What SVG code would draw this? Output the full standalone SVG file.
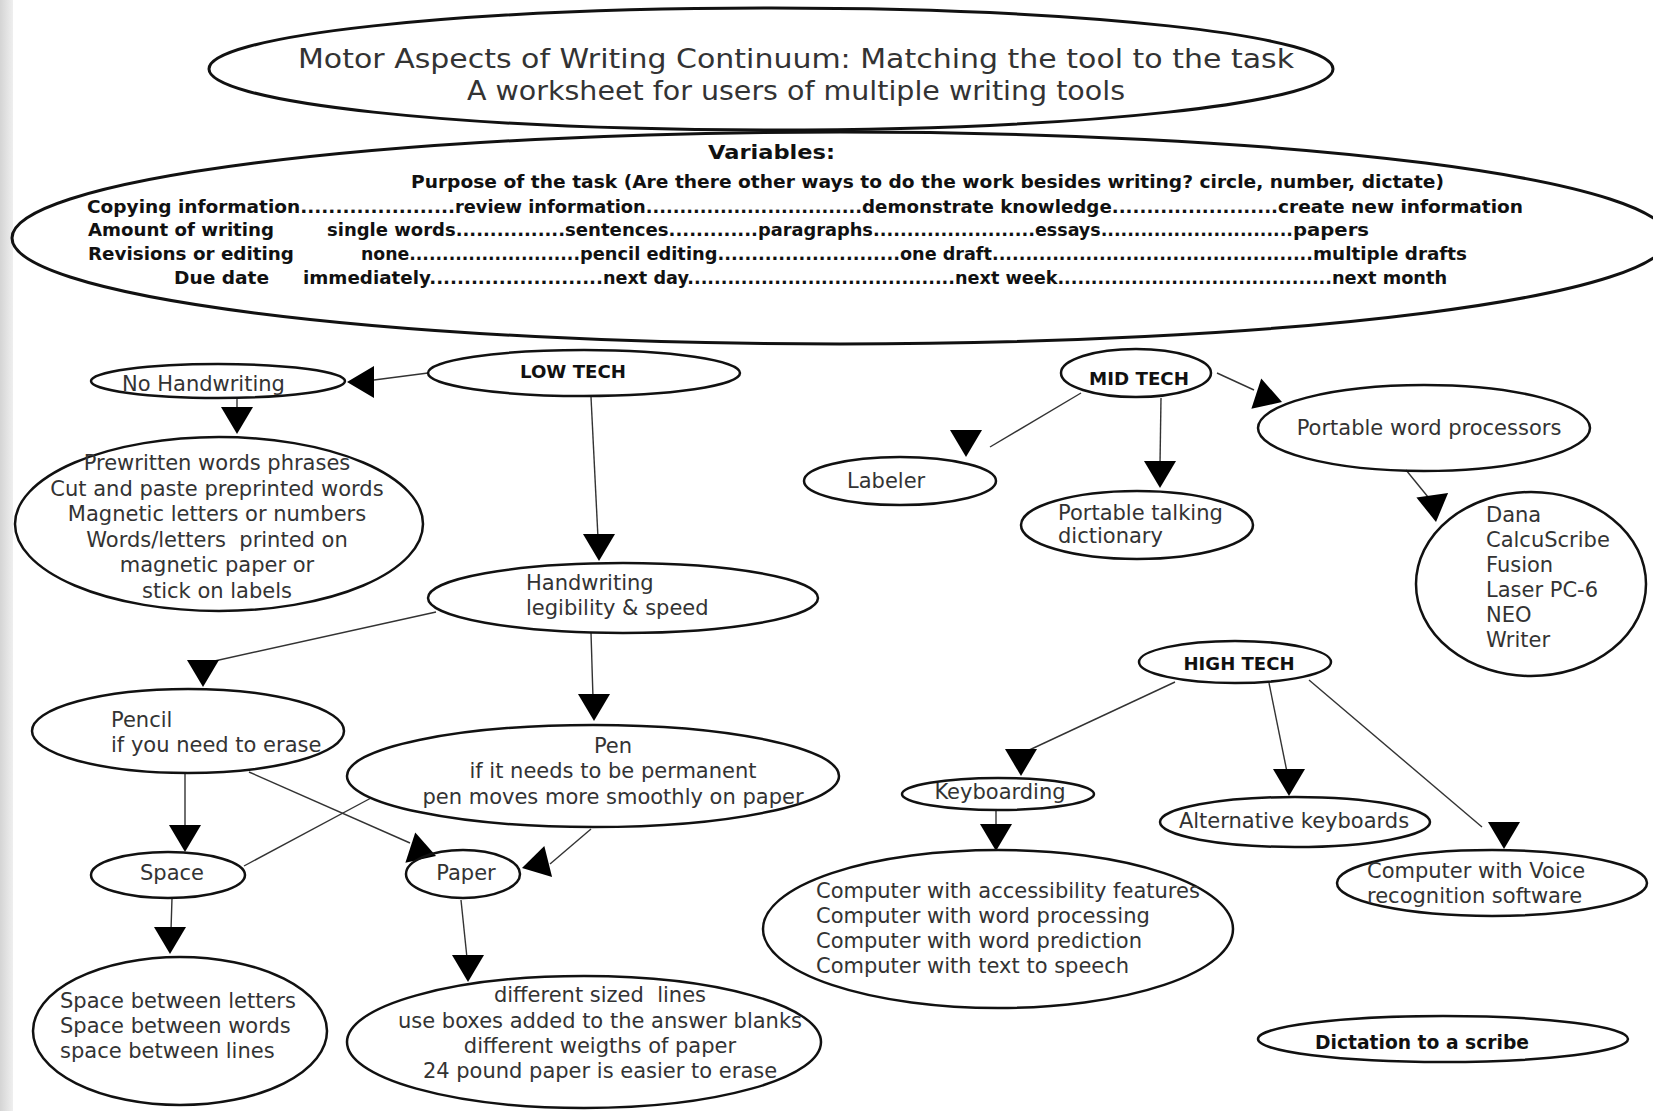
<svg xmlns="http://www.w3.org/2000/svg" xmlns:xlink="http://www.w3.org/1999/xlink" width="1653" height="1111" viewBox="0 0 1653 1111">
<style>
.n{fill:none;stroke:#111;stroke-width:2.5}
.t{font-family:"DejaVu Sans",sans-serif;font-size:21px;fill:#333}
.b{font-family:"DejaVu Sans",sans-serif;font-weight:bold;fill:#111}
.v{font-family:"DejaVu Sans",sans-serif;font-weight:bold;font-size:17px;fill:#111}
.m{text-anchor:middle}
.c line{stroke:#333;stroke-width:1.4}
.c use{fill:#000}
</style>
<defs>
<linearGradient id="edge" x1="0" y1="0" x2="1" y2="0">
<stop offset="0" stop-color="#d4d4d4"/>
<stop offset="1" stop-color="#efefef"/>
</linearGradient>
<path id="ah" d="M0,0 L-16,-27 L16,-27 Z"/>
</defs>
<rect x="0" y="0" width="1653" height="1111" fill="#fff"/>
<rect x="0" y="0" width="13" height="1111" fill="url(#edge)"/>

<g id="title">
<ellipse class="n" cx="771" cy="69" rx="562" ry="61" style="stroke-width:3"/>
<text class="t m" x="796" y="68" textLength="996" lengthAdjust="spacingAndGlyphs" style="font-size:26px">Motor Aspects of Writing Continuum: Matching the tool to the task</text>
<text class="t m" x="796" y="100" style="font-size:26px" textLength="658" lengthAdjust="spacingAndGlyphs">A worksheet for users of multiple writing tools</text>
</g>

<g id="variables">
<ellipse class="n" cx="840" cy="238" rx="828" ry="106" style="stroke-width:3"/>
<text class="b" x="708" y="159" style="font-size:20px" textLength="127" lengthAdjust="spacingAndGlyphs">Variables:</text>
<text class="v" x="411" y="188" textLength="1033" lengthAdjust="spacingAndGlyphs">Purpose of the task (Are there other ways to do the work besides writing? circle, number, dictate)</text>
<text class="v" y="213"><tspan x="87" textLength="368" lengthAdjust="spacingAndGlyphs">Copying information......................</tspan><tspan x="455" textLength="407" lengthAdjust="spacingAndGlyphs">review information................................</tspan><tspan x="862" textLength="416" lengthAdjust="spacingAndGlyphs">demonstrate knowledge........................</tspan><tspan x="1278" textLength="245" lengthAdjust="spacingAndGlyphs">create new information</tspan></text>
<text class="v" y="236"><tspan x="88" textLength="186" lengthAdjust="spacingAndGlyphs">Amount of writing</tspan><tspan x="327" textLength="238" lengthAdjust="spacingAndGlyphs">single words................</tspan><tspan x="565" textLength="193" lengthAdjust="spacingAndGlyphs">sentences.............</tspan><tspan x="758" textLength="277" lengthAdjust="spacingAndGlyphs">paragraphs........................</tspan><tspan x="1035" textLength="258" lengthAdjust="spacingAndGlyphs">essays.............................</tspan><tspan x="1293" textLength="76" lengthAdjust="spacingAndGlyphs">papers</tspan></text>
<text class="v" y="260"><tspan x="88" textLength="206" lengthAdjust="spacingAndGlyphs">Revisions or editing</tspan><tspan x="361" textLength="219" lengthAdjust="spacingAndGlyphs">none..........................</tspan><tspan x="580" textLength="320" lengthAdjust="spacingAndGlyphs">pencil editing...........................</tspan><tspan x="900" textLength="413" lengthAdjust="spacingAndGlyphs">one draft................................................</tspan><tspan x="1313" textLength="154" lengthAdjust="spacingAndGlyphs">multiple drafts</tspan></text>
<text class="v" y="284"><tspan x="174" textLength="95" lengthAdjust="spacingAndGlyphs">Due date</tspan><tspan x="303" textLength="300" lengthAdjust="spacingAndGlyphs">immediately.........................</tspan><tspan x="603" textLength="352" lengthAdjust="spacingAndGlyphs">next day........................................</tspan><tspan x="955" textLength="377" lengthAdjust="spacingAndGlyphs">next week.........................................</tspan><tspan x="1332" textLength="115" lengthAdjust="spacingAndGlyphs">next month</tspan></text>
</g>

<g id="connectors" class="c">
<line x1="428" y1="373" x2="374" y2="380"/><use xlink:href="#ah" transform="translate(347,382) rotate(90)"/>
<line x1="237" y1="398" x2="237" y2="410"/><use xlink:href="#ah" transform="translate(237,434)"/>
<line x1="591" y1="397" x2="598" y2="538"/><use xlink:href="#ah" transform="translate(599,561)"/>
<line x1="436" y1="612" x2="210" y2="662"/><use xlink:href="#ah" transform="translate(203,687)"/>
<line x1="591" y1="633" x2="593" y2="698"/><use xlink:href="#ah" transform="translate(594,721)"/>
<line x1="185" y1="773" x2="185" y2="828"/><use xlink:href="#ah" transform="translate(185,852)"/>
<line x1="249" y1="772" x2="410" y2="843"/><use xlink:href="#ah" transform="translate(436,856) rotate(-72)"/>
<line x1="591" y1="829" x2="550" y2="864"/><use xlink:href="#ah" transform="translate(522,868) rotate(76)"/>
<line x1="244" y1="866" x2="371" y2="798"/>
<line x1="172" y1="898" x2="171" y2="930"/><use xlink:href="#ah" transform="translate(170,954)"/>
<line x1="461" y1="900" x2="467" y2="958"/><use xlink:href="#ah" transform="translate(468,982)"/>
<line x1="1081" y1="393" x2="990" y2="447"/><use xlink:href="#ah" transform="translate(966,457)"/>
<line x1="1161" y1="398" x2="1160" y2="464"/><use xlink:href="#ah" transform="translate(1160,488)"/>
<line x1="1217" y1="373" x2="1254" y2="390"/><use xlink:href="#ah" transform="translate(1282,402) rotate(-72)"/>
<line x1="1406" y1="470" x2="1428" y2="497"/><use xlink:href="#ah" transform="translate(1436,522) rotate(-8)"/>
<line x1="1175" y1="682" x2="1025" y2="752"/><use xlink:href="#ah" transform="translate(1021,776)"/>
<line x1="1269" y1="683" x2="1287" y2="772"/><use xlink:href="#ah" transform="translate(1289,796)"/>
<line x1="1309" y1="680" x2="1482" y2="827"/><use xlink:href="#ah" transform="translate(1504,849)"/>
<line x1="996" y1="810" x2="996" y2="827"/><use xlink:href="#ah" transform="translate(996,851)"/>
</g>

<g id="low-tech"><ellipse class="n" cx="584" cy="373" rx="156" ry="23"/><text class="b m" x="573" y="378" style="font-size:18px" textLength="106" lengthAdjust="spacingAndGlyphs">LOW TECH</text></g>
<g id="no-handwriting"><ellipse class="n" cx="218" cy="381" rx="127" ry="17"/><text class="t" x="122" y="391">No Handwriting</text></g>
<g id="prewritten"><ellipse class="n" cx="219" cy="524" rx="204" ry="87"/>
<text class="t m" xml:space="preserve"><tspan x="217" y="470">Prewritten words phrases</tspan><tspan x="217" y="496">Cut and paste preprinted words</tspan><tspan x="217" y="521">Magnetic letters or numbers</tspan><tspan x="217" y="547">Words/letters  printed on</tspan><tspan x="217" y="572">magnetic paper or</tspan><tspan x="217" y="598">stick on labels</tspan></text></g>
<g id="handwriting"><ellipse class="n" cx="623" cy="598" rx="195" ry="35"/>
<text class="t"><tspan x="526" y="590">Handwriting</tspan><tspan x="526" y="615">legibility &amp; speed</tspan></text></g>
<g id="pencil"><ellipse class="n" cx="188" cy="731" rx="156" ry="42"/>
<text class="t"><tspan x="111" y="727">Pencil</tspan><tspan x="111" y="752">if you need to erase</tspan></text></g>
<g id="pen"><ellipse class="n" cx="593" cy="776" rx="246" ry="51"/>
<text class="t m"><tspan x="613" y="753">Pen</tspan><tspan x="613" y="778">if it needs to be permanent</tspan><tspan x="613" y="804">pen moves more smoothly on paper</tspan></text></g>
<g id="space"><ellipse class="n" cx="168" cy="875" rx="77" ry="23"/><text class="t m" x="172" y="880">Space</text></g>
<g id="paper"><ellipse class="n" cx="463" cy="874" rx="57" ry="24"/><text class="t m" x="466" y="880">Paper</text></g>
<g id="space-between"><ellipse class="n" cx="180" cy="1031" rx="147" ry="74"/>
<text class="t"><tspan x="60" y="1008">Space between letters</tspan><tspan x="60" y="1033">Space between words</tspan><tspan x="60" y="1058">space between lines</tspan></text></g>
<g id="paper-options"><ellipse class="n" cx="584" cy="1042" rx="237" ry="66"/>
<text class="t m" xml:space="preserve"><tspan x="600" y="1002">different sized  lines</tspan><tspan x="600" y="1028">use boxes added to the answer blanks</tspan><tspan x="600" y="1053">different weigths of paper</tspan><tspan x="600" y="1078">24 pound paper is easier to erase</tspan></text></g>

<g id="mid-tech"><ellipse class="n" cx="1136" cy="373" rx="75" ry="24"/><text class="b m" x="1139" y="385" style="font-size:18px" textLength="100" lengthAdjust="spacingAndGlyphs">MID TECH</text></g>
<g id="labeler"><ellipse class="n" cx="900" cy="481" rx="96" ry="24"/><text class="t" x="847" y="488">Labeler</text></g>
<g id="talking-dictionary"><ellipse class="n" cx="1137" cy="525" rx="116" ry="34"/>
<text class="t"><tspan x="1058" y="520">Portable talking</tspan><tspan x="1058" y="543">dictionary</tspan></text></g>
<g id="word-processors"><ellipse class="n" cx="1424" cy="428" rx="166" ry="43"/><text class="t m" x="1429" y="435">Portable word processors</text></g>
<g id="devices"><ellipse class="n" cx="1531" cy="584" rx="115" ry="92"/>
<text class="t"><tspan x="1486" y="522">Dana</tspan><tspan x="1486" y="547">CalcuScribe</tspan><tspan x="1486" y="572">Fusion</tspan><tspan x="1486" y="597">Laser PC-6</tspan><tspan x="1486" y="622">NEO</tspan><tspan x="1486" y="647">Writer</tspan></text></g>

<g id="high-tech"><ellipse class="n" cx="1235" cy="662" rx="96" ry="21"/><text class="b m" x="1239" y="670" style="font-size:18px" textLength="111" lengthAdjust="spacingAndGlyphs">HIGH TECH</text></g>
<g id="keyboarding"><ellipse class="n" cx="998" cy="794" rx="96" ry="16"/><text class="t m" x="1000" y="799">Keyboarding</text></g>
<g id="alt-keyboards"><ellipse class="n" cx="1295" cy="822" rx="135" ry="25"/><text class="t m" x="1294" y="828">Alternative keyboards</text></g>
<g id="voice"><ellipse class="n" cx="1492" cy="883" rx="155" ry="33"/>
<text class="t"><tspan x="1367" y="878">Computer with Voice</tspan><tspan x="1367" y="903">recognition software</tspan></text></g>
<g id="computer"><ellipse class="n" cx="998" cy="929" rx="235" ry="79"/>
<text class="t"><tspan x="816" y="898">Computer with accessibility features</tspan><tspan x="816" y="923">Computer with word processing</tspan><tspan x="816" y="948">Computer with word prediction</tspan><tspan x="816" y="973">Computer with text to speech</tspan></text></g>
<g id="dictation"><ellipse class="n" cx="1443" cy="1039" rx="185" ry="23"/><text class="b m" x="1422" y="1049" style="font-size:19px" textLength="214" lengthAdjust="spacingAndGlyphs">Dictation to a scribe</text></g>
</svg>
